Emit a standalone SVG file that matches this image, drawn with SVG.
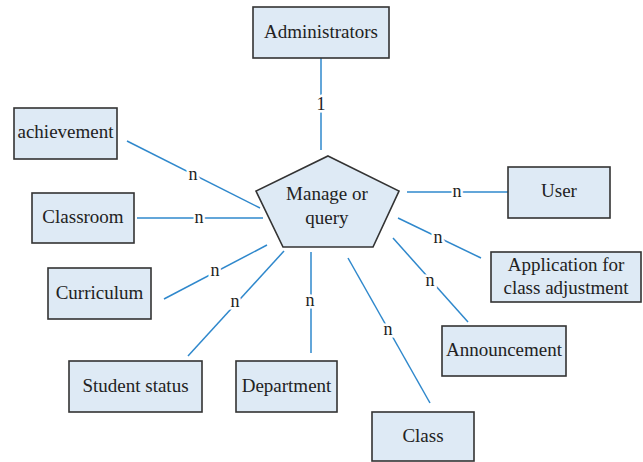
<svg xmlns="http://www.w3.org/2000/svg" width="643" height="462" viewBox="0 0 643 462">
<style>
.box{fill:#deeaf5;stroke:#333;stroke-width:1.6}
.t{font-family:"Liberation Serif","DejaVu Serif",serif;font-size:19px;fill:#222;text-anchor:middle}
.c{stroke:#2f88cc;stroke-width:1.5;fill:none}
.l{font-family:"Liberation Serif","DejaVu Serif",serif;font-size:18px;fill:#222;text-anchor:middle;stroke:#fff;stroke-width:5;paint-order:stroke}
</style>
<rect width="643" height="462" fill="#fff"/>
<g id="connectors">
<line class="c" x1="321" y1="58" x2="321" y2="150"/>
<line class="c" x1="127" y1="141" x2="260" y2="208"/>
<line class="c" x1="137" y1="218" x2="263" y2="218"/>
<line class="c" x1="164" y1="299" x2="267" y2="245"/>
<line class="c" x1="188" y1="356" x2="284" y2="251"/>
<line class="c" x1="311" y1="252" x2="311" y2="353"/>
<line class="c" x1="348" y1="258" x2="430" y2="403"/>
<line class="c" x1="393" y1="238" x2="468" y2="322"/>
<line class="c" x1="398" y1="218" x2="481" y2="258"/>
<line class="c" x1="407" y1="192" x2="508" y2="192"/>
<text class="l" x="321" y="110">1</text>
<text class="l" x="193" y="180">n</text>
<text class="l" x="199" y="223">n</text>
<text class="l" x="215" y="276">n</text>
<text class="l" x="235" y="307">n</text>
<text class="l" x="310" y="306">n</text>
<text class="l" x="388" y="335">n</text>
<text class="l" x="430" y="286">n</text>
<text class="l" x="438" y="243">n</text>
<text class="l" x="457" y="197">n</text>
</g>
<g id="manage">
<polygon class="box" points="328,156 399,191 373,247 283,247 256,191"/>
<text class="t" x="327" y="200">Manage or</text>
<text class="t" x="327" y="224">query</text>
</g>
<g id="administrators">
<rect class="box" x="253" y="7" width="136" height="51"/>
<text class="t" x="321" y="38">Administrators</text>
</g>
<g id="achievement">
<rect class="box" x="14" y="108" width="103" height="51"/>
<text class="t" x="65.5" y="138">achievement</text>
</g>
<g id="classroom">
<rect class="box" x="32" y="193" width="102" height="50"/>
<text class="t" x="83" y="223">Classroom</text>
</g>
<g id="curriculum">
<rect class="box" x="48" y="268" width="103" height="51"/>
<text class="t" x="99.5" y="299">Curriculum</text>
</g>
<g id="student-status">
<rect class="box" x="69" y="361" width="133" height="51"/>
<text class="t" x="135.5" y="392">Student status</text>
</g>
<g id="department">
<rect class="box" x="236" y="361" width="101" height="51"/>
<text class="t" x="286.5" y="392">Department</text>
</g>
<g id="class">
<rect class="box" x="372" y="412" width="102" height="49"/>
<text class="t" x="423" y="442">Class</text>
</g>
<g id="announcement">
<rect class="box" x="442" y="326" width="124" height="50"/>
<text class="t" x="504" y="356">Announcement</text>
</g>
<g id="application">
<rect class="box" x="491" y="252" width="150" height="50"/>
<text class="t" x="566" y="271">Application for</text>
<text class="t" x="566" y="294">class adjustment</text>
</g>
<g id="user">
<rect class="box" x="508" y="167" width="102" height="51"/>
<text class="t" x="559" y="197">User</text>
</g>
</svg>
